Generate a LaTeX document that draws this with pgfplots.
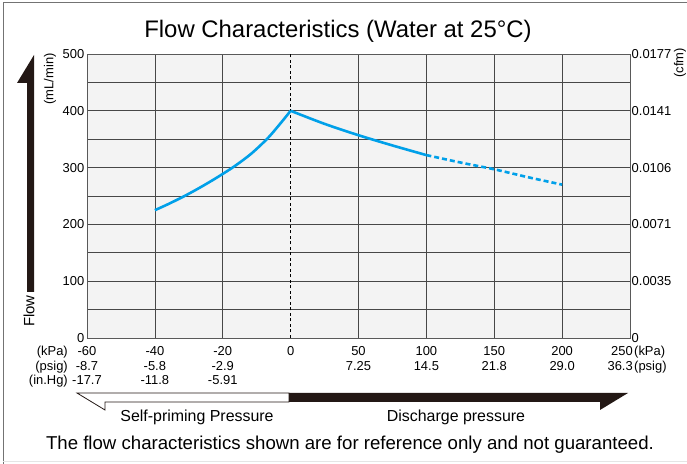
\documentclass[border=0pt]{standalone}
\usepackage{pgfplots}
\pgfplotsset{compat=1.18}
\usepackage{fontspec}
\setmainfont{Liberation Sans}
\definecolor{flowblue}{HTML}{00A0E9}
\definecolor{bggray}{HTML}{F3F3F3}
\definecolor{inkblack}{HTML}{231815}
\newcommand{\fs}{\vphantom{(}}
\newcommand{\tickfont}{\fontsize{13}{14.5}\selectfont}
\begin{document}
\begin{tikzpicture}
\path[use as bounding box] (0,0) rectangle (687bp,464bp);
\draw[black!55, line width=1bp] (3bp,0) -- (3bp,461bp) -- (687bp,461bp);
\draw[black!10, line width=1bp] (3bp,2bp) -- (687bp,2bp);

% x positions: u = kPa/20 for kPa<0, u = kPa/50 for kPa>=0
\begin{axis}[
  at={(87bp,126bp)}, anchor=south west,
  width=543bp, height=284bp, scale only axis,
  xmin=-3, xmax=5, ymin=0, ymax=500,
  axis background/.style={fill=bggray},
  /pgf/number format/assume math mode=true,
  xtick={-3,-2,-1,1,2,3,4},
  xticklabels={{\fs-60\\-8.7\\-17.7},{\fs-40\\-5.8\\-11.8},{\fs-20\\-2.9\\-5.91},{\fs50\\7.25},{\fs100\\14.5},{\fs150\\21.8},{\fs200\\29.0}},
  extra x ticks={0},
  extra x tick labels={\fs0},
  extra x tick style={grid=major, major grid style={black, dashed, line width=0.8bp, dash pattern=on 3bp off 2.5bp}},
  ytick={0,100,...,500},
  minor ytick={50,150,...,450},
  grid=both,
  major grid style={black!72, line width=0.7bp},
  minor grid style={black!72, line width=0.7bp},
  tick style={draw=none},
  axis line style={black!65, line width=0.9bp},
  ticklabel style={font=\tickfont},
  xticklabel style={align=center, anchor=north, inner sep=0pt, yshift=-8.3bp},
  yticklabel style={inner sep=2.5bp},
  clip=false,
]
\addplot[flowblue, line width=2.6bp, smooth] coordinates {
  (-2,225) (-1.804,235.7) (-1.559,250.2) (-1.314,266.3) (-1.069,283.7) (-0.824,302.6) (-0.578,324.7) (-0.333,352.3) (-0.137,379.7) (0,400)
};
\addplot[flowblue, line width=2.6bp, smooth] coordinates {
  (0,400) (0.5,377) (1,357) (1.5,339) (2,322)
};
\addplot[flowblue, line width=2.6bp, dash pattern=on 5bp off 3bp, smooth] coordinates {
  (2,322) (2.5,309) (3,297) (3.5,283) (4,270)
};
\end{axis}
\begin{axis}[
  at={(87bp,126bp)}, anchor=south west,
  width=543bp, height=284bp, scale only axis,
  xmin=-3, xmax=5, ymin=0, ymax=500,
  axis x line=none, axis y line*=right,
  axis line style={black!65, line width=0.9bp},
  ytick={0,100,...,500},
  yticklabels={0,0.0035,0.0071,0.0106,0.0141,0.0177},
  tick style={draw=none},
  ticklabel style={font=\tickfont},
  yticklabel style={inner sep=1.5bp},
]
\addplot[draw=none] coordinates {(0,0)};
\end{axis}

\begin{scope}[x=1bp,y=1bp]
\node[font=\fontsize{24}{28}\selectfont] at (338,433) {Flow Characteristics (Water at 25°C)};
\node[font=\tickfont, rotate=90] at (50,385) {(mL/min)};
\node[font=\tickfont, rotate=90] at (680,401) {(cfm)};
\fill[inkblack] (34,409) -- (34,172) -- (27,172) -- (27,381) -- (17,381) -- cycle;
\node[font=\fontsize{15}{17}\selectfont, rotate=90] at (29,153) {Flow};
\node[font=\tickfont, align=right, anchor=north east, inner sep=0pt] at (68,117.7) {\fs(kPa)\\(psig)\\(in.Hg)};
\node[font=\tickfont, align=right, anchor=north east, inner sep=0pt] at (633,117.7) {\fs250\\36.3};
\node[font=\tickfont, align=left, anchor=north west, inner sep=0pt] at (634,117.7) {\fs(kPa)\\(psig)};
\filldraw[draw=inkblack, fill=white, line width=0.8bp] (77,71) -- (289,71) -- (289,62) -- (105,62) -- (105,54) -- cycle;
\fill[inkblack] (289,71) -- (628,71) -- (600,54) -- (600,62) -- (289,62) -- cycle;
\node[font=\fontsize{16}{18}\selectfont] at (197,47) {Self-priming Pressure};
\node[font=\fontsize{16}{18}\selectfont] at (456,47) {Discharge pressure};
\node[font=\fontsize{18.7}{22}\selectfont] at (350,19) {The flow characteristics shown are for reference only and not guaranteed.};
\end{scope}
\end{tikzpicture}
\end{document}
